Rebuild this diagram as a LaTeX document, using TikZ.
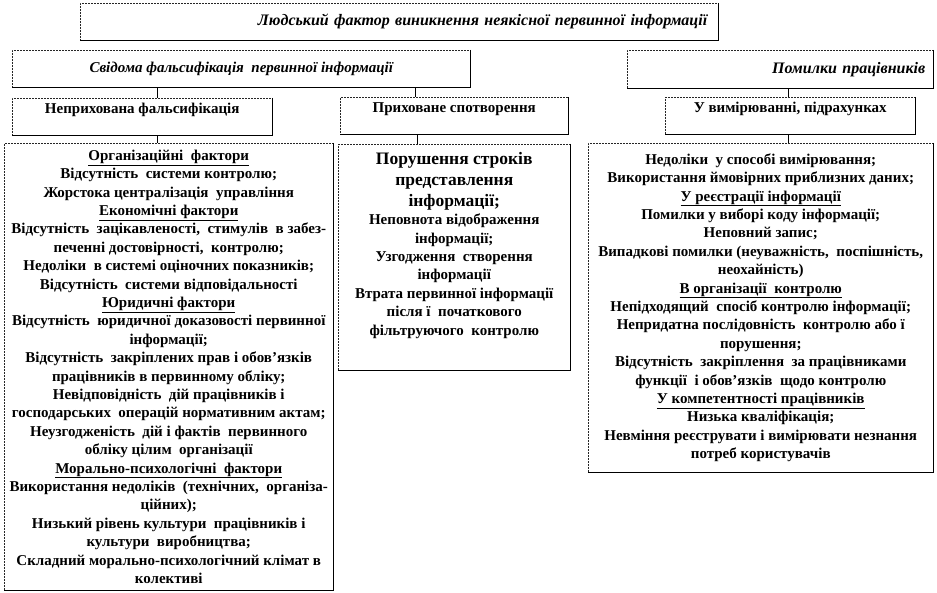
\documentclass[tikz,border=0pt]{standalone}
\usepackage{fontspec}
\setmainfont{Liberation Serif}

\newcommand{\boxtext}[4]{\parbox[c][#2][#1]{#3}{\centering #4}}

\begin{document}
\begin{tikzpicture}[
    x=1pt, y=-1pt,
    conn/.style={line width=0.6pt,black},
    frame/.style={
        draw=black!85,
        densely dotted,
        line width=0.5pt,
        fill=white,
        inner sep=0pt,
        anchor=north west,
        append after command={
            (\tikzlastnode.north east) edge[solid,draw=black] (\tikzlastnode.south east)
            (\tikzlastnode.south east) edge[solid,draw=black] (\tikzlastnode.south west)
        }
    },
    head/.style={
        frame,
        font=\fontsize{16}{18}\selectfont\bfseries\itshape
    },
    sub/.style={
        frame,
        font=\fontsize{15}{17}\selectfont\bfseries,
        text height=15pt,
        text depth=22pt
    },
    body/.style={
        frame,
        font=\fontsize{15}{18.4}\selectfont\bfseries
    }
]
\useasboundingbox (0,0) rectangle (937,593);

% top level
\node[head, minimum width=638pt, minimum height=37pt, text width=616pt, inner xsep=11pt, align=right]
    (human) at (80,3) {Людський фактор виникнення неякісної первинної інформації};

\node[head, font=\fontsize{15}{17}\selectfont\bfseries\itshape, minimum width=458pt, minimum height=37pt]
    (conscious) at (12,50) {Свідома фальсифікація\ \ первинної інформації};
\node[head, minimum width=306pt, minimum height=38pt, text width=290pt, inner xsep=8pt, align=right]
    (mistakes) at (627,50) {Помилки працівників};

% second level
\node[sub, minimum width=260pt] (open) at (12,98) {Неприхована фальсифікація};
\node[sub, minimum width=228pt] (hidden) at (340,97) {Приховане спотворення};
\node[sub, minimum width=250pt] (measure) at (665,97) {У вимірюванні, підрахунках};

\draw[conn] ([xshift=15pt]open.north) -- ([xshift=15pt]open.north |- conscious.south);
\draw[conn] ([xshift=-39pt]hidden.north) -- ([xshift=-39pt]hidden.north |- conscious.south);
\draw[conn] ([xshift=-2pt]measure.north) -- ([xshift=-2pt]measure.north |- mistakes.south);

% factor lists
\node[body] (factors) at (4,143) {\boxtext{c}{447pt}{329pt}{%
    \underline{Організаційні\ \ фактори}\\
    Відсутність\ \ системи контролю;\\
    Жорстока централізація\ \ управління\\
    \underline{Економічні фактори}\\
    Відсутність\ \ зацікавленості,\ \ стимулів\ \ в забез-\\
    печенні достовірності,\ \ контролю;\\
    Недоліки\ \ в системі оціночних показників;\\
    Відсутність\ \ системи відповідальності\\
    \underline{Юридичні фактори}\\
    Відсутність\ \ юридичної доказовості первинної\\
    інформації;\\
    Відсутність\ \ закріплених прав і обов’язків\\
    працівників в первинному обліку;\\
    Невідповідність\ \ дій працівників і\\
    господарських\ \ операцій нормативним актам;\\
    Неузгодженість\ \ дій і фактів\ \ первинного\\
    обліку цілим\ \ організації\\
    \underline{Морально-психологічні\ \ фактори}\\
    Використання недоліків\ \ (технічних,\ \ організа-\\
    ційних);\\
    Низький рівень культури\ \ працівників і\\
    культури\ \ виробництва;\\
    Складний морально-психологічний клімат в\\
    колективі}};

\node[body] (distort) at (338,144) {\boxtext{t}{226pt}{232pt}{%
    \vspace*{8pt}%
    {\fontsize{17.5}{21}\selectfont Порушення строків\\
    представлення\\
    інформації;\par}
    Неповнота відображення\\
    інформації;\\
    Узгодження\ \ створення\\
    інформації\\
    Втрата первинної інформації\\
    після ї\ \ початкового\\
    фільтруючого\ \ контролю}};

\node[body] (errors) at (588,143) {\boxtext{c}{329pt}{345pt}{%
    Недоліки\ \ у способі вимірювання;\\
    Використання ймовірних приблизних даних;\\
    \underline{У реєстрації інформації}\\
    Помилки у виборі коду інформації;\\
    Неповний запис;\\
    Випадкові помилки (неуважність,\ \ поспішність,\\
    неохайність)\\
    \underline{В організації\ \ контролю}\\
    Непідходящий\ \ спосіб контролю інформації;\\
    Непридатна послідовність\ \ контролю або ї\\
    порушення;\\
    Відсутність\ \ закріплення\ \ за працівниками\\
    функції\ \ і обов’язків\ \ щодо контролю\\
    \underline{У компетентності працівників}\\
    Низька кваліфікація;\\
    Невміння реєструвати і вимірювати незнання\\
    потреб користувачів}};

\draw[conn] ([xshift=15pt]open.south) -- ([xshift=15pt]open.south |- factors.north);
\draw[conn] ([xshift=-37pt]hidden.south) -- ([xshift=-37pt]hidden.south |- distort.north);
\draw[conn] ([xshift=-2pt]measure.south) -- ([xshift=-2pt]measure.south |- errors.north);

\end{tikzpicture}
\end{document}
